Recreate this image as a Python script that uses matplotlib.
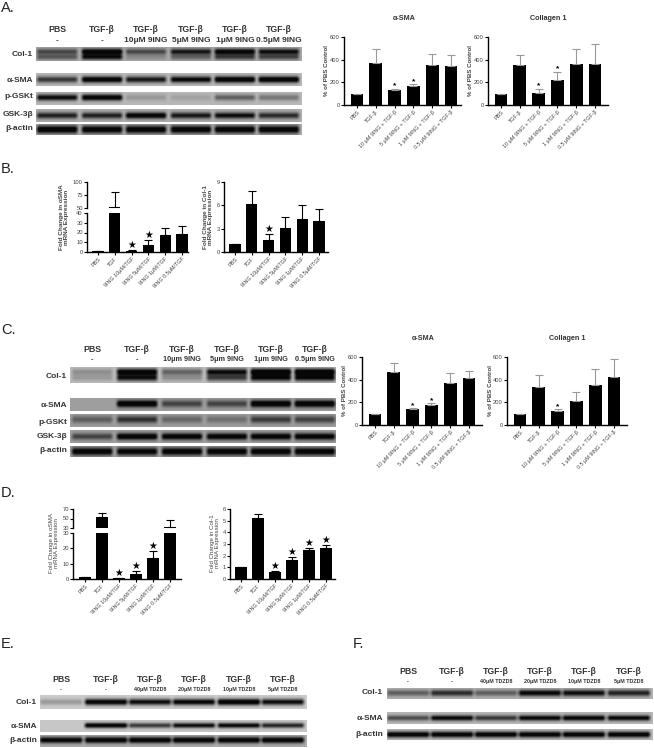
import numpy as np
import matplotlib
matplotlib.use("Agg")
import matplotlib.pyplot as plt

W, H = 654, 748
plt.rcParams['font.family'] = ['Liberation Sans', 'DejaVu Sans']

# ---------- bar data ----------
labels_prot = ["PBS", "TGF-β", "10 μM 9ING + TGF-β", "5 μM 9ING + TGF-β", "1 μM 9ING + TGF-β", "0.5 μM 9ING + TGF-β"]
labels_rna = ["PBS", "TGF", "9ING 10μM/TGF", "9ING 5μM/TGF", "9ING 1μM/TGF", "9ING 0.5μM/TGF"]

a_sma_val = [100, 375, 130, 168, 355, 345]
a_sma_err = [100, 490, 145, 182, 450, 445]
a_col_val = [100, 350, 110, 220, 360, 360]
a_col_err = [100, 445, 145, 295, 495, 535]

b_sma_val = [1, 52.5, 1.5, 7.5, 17, 18.5]
b_sma_err = [1, 81, 2, 12, 25, 26.5]
b_col_val = [1, 6.2, 1.6, 3.1, 4.2, 4.0]
b_col_err = [1, 7.9, 2.35, 4.5, 6.05, 5.55]

c_sma_val = [100, 470, 140, 175, 375, 415]
c_sma_err = [100, 545, 150, 195, 460, 480]
c_col_val = [100, 335, 125, 210, 350, 420]
c_col_err = [100, 440, 140, 290, 490, 580]

d_sma_val = [1, 53, 0.5, 3, 13.5, 31.5]
d_sma_err = [1, 61, 0.7, 5, 18, 46]
d_col_val = [1, 5.25, 0.57, 1.65, 2.5, 2.7]
d_col_err = [1, 5.6, 0.72, 1.85, 2.62, 2.95]

# ---------- blot data: band strength per lane (0..1) ----------
a_rows = ["Col-1", "α-SMA", "p-GSKt", "GSK-3β", "β-actin"]
a_col1_up = [.5, 1.0, .5, .75, .95, .8]
a_col1_lo = [.4, .8, .15, .35, .55, .5]
a_sma_blot = [.6, .95, .75, .85, 1.0, 1.0]
a_pgsk = [.8, .95, .15, .1, .4, .3]
a_gsk = [.7, .7, .95, .75, .8, .65]
a_act = [1, .95, .95, .95, .95, .95]

c_col1_up = [.2, .9, .4, .8, 1.0, 1.0]
c_col1_lo = [.15, .75, .2, .55, .8, .8]
c_sma_blot = [0, 1, .5, .5, 1, 1]
c_pgsk = [.35, .6, .3, .25, .55, .5]
c_gsk = [.5, 1, .95, .95, .95, .95]
c_act = [.95, .9, .95, .95, .95, .95]

e_col1 = [.2, .9, .8, .85, 1, .8]
e_sma = [0, .95, .6, .8, .85, .7]
e_act = [.9, .95, .95, .95, .95, .95]

f_col1 = [.4, .65, .4, .85, .8, .7]
f_sma = [.5, .85, .6, .85, .9, .85]
f_act = [.95, .95, .95, .95, .95, .95]

a_conc = ["10μM 9ING", "5μM 9ING", "1μM 9ING", "0.5μM 9ING"]
c_conc = ["10μm 9ING", "5μm 9ING", "1μm 9ING", "0.5μm 9ING"]
e_conc = ["40μM TDZD8", "20μM TDZD8", "10μM TDZD8", "5μM TDZD8"]

fig = plt.figure(figsize=(W / 100, H / 100), dpi=100, facecolor='white')


def pax(x0, y0, x1, y1, **kw):
    return fig.add_axes([x0 / W, 1 - y1 / H, (x1 - x0) / W, (y1 - y0) / H], **kw)


def ftext(x, y, s, **kw):
    kw.setdefault('ha', 'center')
    kw.setdefault('va', 'center')
    return fig.text(x / W, 1 - y / H, s, **kw)


def blot(x0, y0, x1, y1, lanes, bands, bg=.68, halfw=20):
    """bands: list of (strengths, centre fraction, thickness in px)"""
    nx, ny = int((x1 - x0) * 2), int((y1 - y0) * 2)
    xs = np.linspace(x0, x1, nx)
    ys = np.linspace(0, y1 - y0, ny)
    dark = np.zeros((ny, nx))
    for strengths, frac, th in bands:
        for cx, s in zip(lanes, strengths):
            prof_x = np.clip((halfw + 2 - np.abs(xs - cx)) / 4, 0, 1)
            prof_y = np.exp(-((ys - frac * (y1 - y0)) / th) ** 2)
            dark += s * np.outer(prof_y, prof_x)
    dark = np.clip(dark * 1.25, 0, 1)
    img = bg * (1 - dark) + .03 * dark
    ax = pax(x0, y0, x1, y1)
    ax.imshow(img, cmap='gray', vmin=0, vmax=1, aspect='auto', interpolation='bilinear')
    ax.axis('off')


def head(lanes, conc, y1, y2, fs2=6.0):
    firsts = ["PBS", "TGF-β"]
    for i, cx in enumerate(lanes):
        ftext(cx, y1, firsts[0] if i == 0 else firsts[1], fontsize=6.3, fontweight='bold', color='#333')
        s = "-" if i < 2 else conc[i - 2]
        ftext(cx, y2, s, fontsize=fs2, fontweight='bold', color='#333')


def style(ax, fs=4.2, lw=1.0):
    ax.patch.set_alpha(0)
    for s in ('top', 'right'):
        ax.spines[s].set_visible(False)
    for s in ('left', 'bottom'):
        ax.spines[s].set_linewidth(lw)
    ax.tick_params(axis='both', labelsize=fs, length=2, width=.8, pad=1, labelcolor='#444')


def xframe(ax, c0, step, x0, x1):
    ax.set_xlim((x0 - c0) / step, (x1 - c0) / step)


def bars(ax, vals, tops, width, ecolor):
    xs = np.arange(len(vals))
    ax.bar(xs, vals, width=width, color='black')
    up = np.maximum(np.array(tops, float) - np.array(vals, float), 0)
    ax.errorbar(xs, vals, yerr=[np.zeros(len(vals)), up], fmt='none', ecolor=ecolor,
                elinewidth=.8, capsize=2.6, capthick=.8)


def xlabs(ax, labels, fs=3.9):
    ax.set_xticks(range(len(labels)))
    ax.set_xticklabels(labels, rotation=45, ha='right', rotation_mode='anchor', fontsize=fs, color='#444')


def prot_chart(x0, x1, ytop, ybot, c0, vals, tops, title, tx, stars):
    ax = pax(x0, ytop, x1, ybot)
    bars(ax, vals, tops, .68, '#999999')
    ax.set_ylim(0, 600)
    ax.set_yticks([0, 200, 400, 600])
    style(ax)
    xframe(ax, c0, 18.8, x0, x1)
    xlabs(ax, labels_prot)
    for i in stars:
        ax.text(i, tops[i] - 10, '*', ha='center', va='bottom', fontsize=6, fontweight='bold')
    ftext(tx, ytop - 19, title, fontsize=5.2, fontweight='bold', color='#333')
    ftext(x0 - 17, (ytop + ybot) / 2, "% of PBS Control", rotation=90, fontsize=4.4, fontweight='bold', color='#444')


def star(ax, x, y):
    ax.text(x, y, '★', ha='center', va='bottom', fontsize=7, family='DejaVu Sans', color='black')


def broken(x0, x1, ya, yb, yc, yd, c0, step, vals, tops, lowlim, uplim, lowt, upt, stars, labels):
    up = pax(x0, ya, x1, yb)
    lo = pax(x0, yc, x1, yd)
    for ax in (up, lo):
        bars(ax, vals, tops, .66, 'black')
        style(ax)
        xframe(ax, c0, step, x0, x1)
    up.set_ylim(*uplim)
    up.set_yticks(upt)
    up.spines['bottom'].set_visible(False)
    up.set_xticks([])
    lo.set_ylim(*lowlim)
    lo.set_yticks(lowt)
    xlabs(lo, labels)
    for i in stars:
        star(lo, i, tops[i])
    return up, lo


def plain(x0, x1, ya, yd, c0, step, vals, tops, ymax, ticks, stars, labels):
    ax = pax(x0, ya, x1, yd)
    bars(ax, vals, tops, .66, 'black')
    ax.set_ylim(0, ymax)
    ax.set_yticks(ticks)
    style(ax)
    xframe(ax, c0, step, x0, x1)
    xlabs(ax, labels)
    for i in stars:
        star(ax, i, tops[i])


# ---------- panel letters ----------
for s, x, y in [("A.", 1, 8), ("B.", 1, 169), ("C.", 1, 330), ("D.", 1, 493), ("E.", 1, 644), ("F.", 353, 644)]:
    ftext(x, y, s, ha='left', fontsize=10.5, color='#222')

# ---------- A ----------
lanes_a = [57, 102, 146, 191, 235, 279]
head(lanes_a, a_conc, 29, 41)
blot(36, 47, 302, 61, lanes_a, [(a_col1_up, .33, 3.0), (a_col1_lo, .72, 2.8)], bg=.66)
blot(36, 73, 302, 86, lanes_a, [(a_sma_blot, .5, 3.2)], bg=.72)
blot(36, 92, 302, 105, lanes_a, [(a_pgsk, .42, 3.2)], bg=.72)
blot(36, 109, 302, 122, lanes_a, [(a_gsk, .5, 3.2)], bg=.68)
blot(36, 124, 302, 135, lanes_a, [(a_act, .5, 4.0)], bg=.66)
for s, y in zip(a_rows, [54, 80, 97, 114, 129]):
    ftext(33, y, s, ha='right', fontsize=6.0, fontweight='bold', color='#333')
prot_chart(344, 461, 37, 105, 357, a_sma_val, a_sma_err, "α-SMA", 404, [2, 3])
prot_chart(488, 608, 37, 105, 501, a_col_val, a_col_err, "Collagen 1", 548, [2, 3])

# ---------- B ----------
broken(87, 188, 182, 208, 213, 252, 98, 16.8, b_sma_val, b_sma_err, (0, 40), (50, 100),
       [0, 10, 20, 30, 40], [50, 75, 100], [2, 3], labels_rna)
ftext(64, 217, "Fold Change in αSMA\nmRNA Expression", rotation=90, fontsize=4.6, fontweight='bold', color='#444', linespacing=1.05)
plain(224, 328, 182, 252, 235, 16.8, b_col_val, b_col_err, 9, [0, 3, 6, 9], [2], labels_rna)
ftext(208, 217, "Fold Change in Col-1\nmRNA Expression", rotation=90, fontsize=4.6, fontweight='bold', color='#444', linespacing=1.05)

# ---------- C ----------
lanes_c = [92, 137, 182, 227, 271, 315]
head(lanes_c, c_conc, 349, 360, fs2=5.2)
blot(70, 367, 336, 383, lanes_c, [(c_col1_up, .3, 3.4), (c_col1_lo, .68, 3.4)], bg=.74)
blot(70, 398, 336, 411, lanes_c, [(c_sma_blot, .48, 3.4)], bg=.62)
blot(70, 414, 336, 427, lanes_c, [(c_pgsk, .42, 3.8)], bg=.62)
blot(70, 430, 336, 443, lanes_c, [(c_gsk, .5, 3.4)], bg=.62)
blot(70, 446, 336, 457, lanes_c, [(c_act, .5, 4.0)], bg=.62)
for s, y in zip(a_rows, [376, 406, 422, 436, 451]):
    ftext(67, y, s, ha='right', fontsize=6.0, fontweight='bold', color='#333')
prot_chart(362, 482, 357, 425, 375, c_sma_val, c_sma_err, "α-SMA", 423, [2, 3])
prot_chart(507, 627, 357, 425, 520, c_col_val, c_col_err, "Collagen 1", 567, [2])

# ---------- D ----------
broken(73, 181, 509, 528, 533, 579, 85, 17, d_sma_val, d_sma_err, (0, 30), (30, 70),
       [0, 10, 20, 30], [30, 50, 70], [2, 3, 4], labels_rna)
ftext(54, 543, "Fold Change in αSMA\nmRNA Expression", rotation=90, fontsize=4.4, color='#444', linespacing=1.05)
plain(230, 335, 509, 579, 241, 17, d_col_val, d_col_err, 6, [0, 1, 2, 3, 4, 5, 6], [2, 3, 4, 5], labels_rna)
ftext(215, 543, "Fold Change in Col-1\nmRNA Expression", rotation=90, fontsize=4.4, color='#444', linespacing=1.05)

# ---------- E ----------
lanes_e = [61, 106, 150, 194, 239, 283]
head(lanes_e, e_conc, 679, 690, fs2=3.9)
blot(40, 695, 307, 709, lanes_e, [(e_col1, .5, 3.2)], bg=.80, halfw=21)
blot(40, 720, 307, 732, lanes_e, [(e_sma, .45, 2.6)], bg=.78, halfw=21)
blot(40, 735, 307, 747, lanes_e, [(e_act, .42, 3.2)], bg=.68, halfw=21)
for s, y in zip(["Col-1", "α-SMA", "β-actin"], [703, 726, 740]):
    ftext(37, y, s, ha='right', fontsize=6.0, fontweight='bold', color='#333')

# ---------- F ----------
lanes_f = [408, 452, 496, 540, 584, 629]
head(lanes_f, e_conc, 672, 682, fs2=3.9)
blot(387, 688, 653, 699, lanes_f, [(f_col1, .5, 3.0)], bg=.70, halfw=21)
blot(387, 712, 653, 724, lanes_f, [(f_sma, .5, 2.8)], bg=.72, halfw=21)
blot(387, 729, 653, 740, lanes_f, [(f_act, .5, 3.0)], bg=.72, halfw=21)
for s, y in zip(["Col-1", "α-SMA", "β-actin"], [693, 718, 735]):
    ftext(383, y, s, ha='right', fontsize=6.0, fontweight='bold', color='#333')

fig.savefig("out.png", dpi=100, facecolor='white')
